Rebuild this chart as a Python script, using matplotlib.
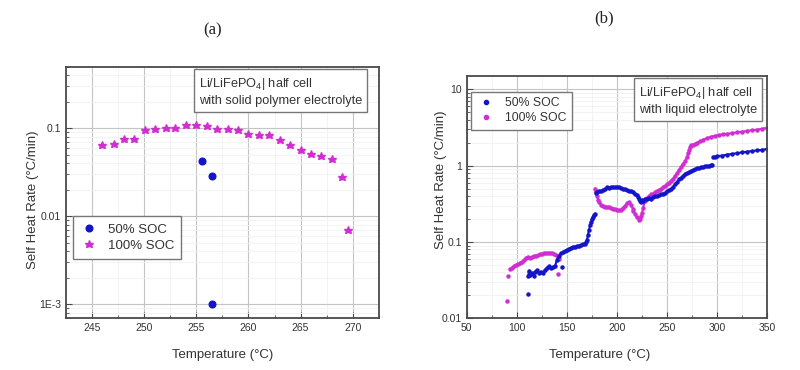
import numpy as np
import matplotlib
matplotlib.use('Agg')
import matplotlib.pyplot as plt
from matplotlib.lines import Line2D
from matplotlib.ticker import FixedLocator, FixedFormatter, MultipleLocator, LogLocator, NullFormatter

plt.rcParams['font.family'] = ['Liberation Sans', 'DejaVu Sans']
plt.rcParams['mathtext.default'] = 'regular'

nan = np.nan

# ---- panel (a): solid polymer electrolyte ----
a_soc50_T = [255.5, 256.5, 256.5]
a_soc50_rate = [0.042, 0.029, 0.001]

a_soc100_T = [246.0, 247.1, 248.1, 249.0, 250.1, 251.0, 252.1, 253.0, 254.0, 255.0,
              256.0, 257.0, 258.0, 259.0, 260.0, 261.0, 262.0, 263.0, 264.0, 265.0,
              266.0, 267.0, 268.0, 269.0, 269.5]
a_soc100_rate = [0.064, 0.066, 0.076, 0.076, 0.095, 0.098, 0.100, 0.102, 0.108, 0.110,
                 0.107, 0.098, 0.097, 0.095, 0.087, 0.083, 0.083, 0.073, 0.064, 0.057,
                 0.051, 0.049, 0.045, 0.028, 0.007]

a_yticks = [1e-3, 0.01, 0.1]
a_yticklabels = ['1E-3', '0.01', '0.1']
a_xticks = [245, 250, 255, 260, 265, 270]

# ---- panel (b): liquid electrolyte (nan = gap in the trace) ----
b_soc50_T = [110.7, nan,
             111.5, 112, 113, 115, 117, 118, 120, 122, 124, 126, 128, 130, 132, 134, 136, 138,
             140, 142, 144, 146, 148, 150, 152, 154, 156, 158, 160, 162, 164, 166, 168, 169,
             170, 171, 172, 173, 174, 175, 176, 177, 178, nan,
             145, nan,
             179, 180, 182, 184, 186, 188, 190, 192, 194, 196, 198, 200, 202, 204, 206, 208,
             210, 212, 214, 216, 218, 220, 221, 222, 223, 224, 225, 226, 228, 230, 232, 234,
             236, 238, 240, 242, 244, 246, 248, 250, 252, 254, 256, 258, 260, 262, 264, 266,
             268, 270, 272, 274, 276, 278, 280, 282, 284, 286, 288, 290, 292, 294, 295, nan,
             296, 298, 300, 305, 310, 315, 320, 325, 330, 335, 340, 345, 350]
b_soc50_rate = [0.021, nan,
                0.036, 0.042, 0.037, 0.039, 0.036, 0.041, 0.043, 0.039, 0.041, 0.039, 0.043, 0.046,
                0.048, 0.045, 0.047, 0.048, 0.058, 0.066, 0.071, 0.073, 0.076, 0.079, 0.082, 0.084,
                0.087, 0.087, 0.088, 0.090, 0.092, 0.093, 0.094, 0.100, 0.106, 0.125, 0.144, 0.165,
                0.185, 0.200, 0.215, 0.225, 0.235, nan,
                0.0465, nan,
                0.44, 0.45, 0.47, 0.46, 0.48, 0.50, 0.52, 0.51, 0.52, 0.53, 0.52, 0.53, 0.52, 0.51,
                0.50, 0.49, 0.48, 0.47, 0.46, 0.45, 0.43, 0.41, 0.39, 0.37, 0.34, 0.33, 0.36, 0.35,
                0.37, 0.37, 0.38, 0.37, 0.39, 0.40, 0.40, 0.41, 0.42, 0.43, 0.44, 0.46, 0.48, 0.50,
                0.53, 0.57, 0.61, 0.66, 0.70, 0.74, 0.77, 0.80, 0.83, 0.86, 0.88, 0.90, 0.92, 0.93,
                0.95, 0.96, 0.98, 0.99, 1.00, 1.02, 1.03, nan,
                1.30, 1.32, 1.33, 1.36, 1.40, 1.43, 1.46, 1.50, 1.53, 1.56, 1.59, 1.62, 1.66]

b_soc100_T = [90, nan, 91, nan, 140.7, nan, 216, nan,
              93, 95, 97, 99, 101, 103, 105, 107, 109, 111, 113, 115, 117, 119, 121, 123, 125,
              127, 129, 131, 133, 135, 137, 139, 141, 142, nan,
              178, 179, 180, 181, 182, 184, 186, 188, 190, 192, 194, 196, 198, 200, 202, 204,
              206, 208, 210, 212, 214, 216, 218, 220, 222, 223, 224, 225, 226, 228, 230, 232,
              234, 236, 238, 240, 242, 244, 246, 248, 250, 252, 254, 256, 258, 260, 262, 264,
              266, 268, 270, 271, 272, 273, nan,
              274, 276, 278, 280, 283, 286, 290, 294, 298, 302, 306, 310, 315, 320, 325, 330,
              335, 340, 345, 350]
b_soc100_rate = [0.017, nan, 0.036, nan, 0.038, nan, 0.255, nan,
                 0.044, 0.046, 0.048, 0.050, 0.051, 0.053, 0.055, 0.058, 0.062, 0.064, 0.062,
                 0.063, 0.065, 0.066, 0.067, 0.069, 0.070, 0.071, 0.071, 0.072, 0.072, 0.071,
                 0.070, 0.068, 0.063, 0.060, nan,
                 0.50, 0.45, 0.40, 0.36, 0.33, 0.31, 0.30, 0.29, 0.29, 0.285, 0.28, 0.275, 0.27,
                 0.265, 0.26, 0.265, 0.28, 0.30, 0.32, 0.33, 0.31, 0.27, 0.23, 0.21, 0.195, 0.20,
                 0.22, 0.24, 0.28, 0.35, 0.38, 0.40, 0.42, 0.43, 0.45, 0.46, 0.48, 0.50, 0.52,
                 0.54, 0.57, 0.60, 0.64, 0.68, 0.74, 0.80, 0.88, 0.97, 1.05, 1.15, 1.30, 1.45,
                 1.60, 1.75, nan,
                 1.85, 1.88, 1.95, 2.00, 2.10, 2.20, 2.30, 2.40, 2.48, 2.52, 2.58, 2.62, 2.68,
                 2.74, 2.80, 2.86, 2.92, 2.98, 3.05, 3.15]

b_yticks = [0.01, 0.1, 1, 10]
b_yticklabels = ['0.01', '0.1', '1', '10']
b_xticks = [50, 100, 150, 200, 250, 300, 350]

BLUE = '#1414c8'
MAGENTA = '#d02ed0'
SPINE = '#4a4a4a'
TXT = '#333333'
BOXTXT = 'Li/LiFePO$_4$| half cell\nwith '


def style_axes(ax):
    ax.set_yscale('log')
    for s in ax.spines.values():
        s.set_color(SPINE)
        s.set_linewidth(1.3)
    ax.tick_params(which='both', direction='in', colors=SPINE, labelcolor=TXT,
                   labelsize=7.5, top=False, right=False)
    ax.tick_params(which='major', length=4)
    ax.tick_params(which='minor', length=2)
    ax.grid(True, which='major', color='#c4c4c4', linewidth=0.8)
    ax.grid(True, which='minor', color='#f1f1f1', linewidth=0.6)
    ax.set_axisbelow(True)


def note(ax, x, y, s):
    ax.text(x, y, s, transform=ax.transAxes, fontsize=9.2, color=TXT, va='top',
            ha='left', linespacing=1.3,
            bbox=dict(boxstyle='square,pad=0.4', fc='white', ec='#777777', lw=1.0))


fig = plt.figure(figsize=(8, 3.7), dpi=100)

# ---------- (a) ----------
ax1 = fig.add_axes([0.0825, 0.1405, 0.391, 0.679])
style_axes(ax1)
ax1.plot(a_soc50_T, a_soc50_rate, 'o', color=BLUE, ms=4.8, label='50% SOC')
ax1.plot(a_soc100_T, a_soc100_rate, '*', color=MAGENTA, ms=6.2, label='100% SOC')
ax1.set_xlim(242.5, 272.5)
ax1.set_ylim(7e-4, 0.5)
ax1.xaxis.set_major_locator(FixedLocator(a_xticks))
ax1.xaxis.set_minor_locator(MultipleLocator(2.5))
ax1.yaxis.set_major_locator(FixedLocator(a_yticks))
ax1.yaxis.set_major_formatter(FixedFormatter(a_yticklabels))
ax1.yaxis.set_minor_locator(LogLocator(base=10, subs=np.arange(2, 10)))
ax1.yaxis.set_minor_formatter(NullFormatter())
ax1.set_xlabel('Temperature (°C)', fontsize=9.5, color=TXT)
ax1.set_ylabel('Self Heat Rate (°C/min)', fontsize=9.5, color=TXT)
ax1.xaxis.set_label_coords(0.5, -0.125)
ax1.yaxis.set_label_coords(-0.085, 0.47)
leg1 = ax1.legend(loc='upper left', bbox_to_anchor=(0.021, 0.406), borderaxespad=0,
                  fontsize=9.5, fancybox=False, edgecolor='#777777', framealpha=1,
                  handlelength=1.4, handletextpad=0.7, borderpad=0.55, labelspacing=0.3)
leg1.get_frame().set_linewidth(1.0)
for t in leg1.get_texts():
    t.set_color(TXT)
note(ax1, 0.425, 0.963, BOXTXT + 'solid polymer electrolyte')
fig.text(213 / 800, 1 - 30 / 370, '(a)', ha='center', va='center', fontsize=12,
         family='Liberation Serif', color='#222222')

# ---------- (b) ----------
ax2 = fig.add_axes([0.5834, 0.1397, 0.3758, 0.6549])
style_axes(ax2)
ax2.plot(b_soc100_T, b_soc100_rate, '-o', color=MAGENTA, ms=2.2, lw=1.5)
ax2.plot(b_soc50_T, b_soc50_rate, '-o', color=BLUE, ms=2.2, lw=1.5)
ax2.set_xlim(50, 350)
ax2.set_ylim(0.01, 15)
ax2.xaxis.set_major_locator(FixedLocator(b_xticks))
ax2.xaxis.set_minor_locator(MultipleLocator(25))
ax2.yaxis.set_major_locator(FixedLocator(b_yticks))
ax2.yaxis.set_major_formatter(FixedFormatter(b_yticklabels))
ax2.yaxis.set_minor_locator(LogLocator(base=10, subs=np.arange(2, 10)))
ax2.yaxis.set_minor_formatter(NullFormatter())
ax2.set_xlabel('Temperature (°C)', fontsize=9.5, color=TXT)
ax2.set_ylabel('Self Heat Rate (°C/min)', fontsize=9.5, color=TXT)
ax2.xaxis.set_label_coords(0.443, -0.128)
ax2.yaxis.set_label_coords(-0.065, 0.57)
handles = [Line2D([], [], marker='o', ls='none', color=BLUE, ms=3),
           Line2D([], [], marker='o', ls='none', color=MAGENTA, ms=3)]
leg2 = ax2.legend(handles, ['50% SOC', '100% SOC'], loc='upper left',
                  bbox_to_anchor=(0.013, 0.935), borderaxespad=0, fontsize=8.8,
                  fancybox=False, edgecolor='#777777', framealpha=1, handlelength=1.6,
                  handletextpad=0.8, borderpad=0.45, labelspacing=0.25)
leg2.get_frame().set_linewidth(1.0)
for t in leg2.get_texts():
    t.set_color(TXT)
note(ax2, 0.573, 0.963, BOXTXT + 'liquid electrolyte')
fig.text(604 / 800, 1 - 18 / 370, '(b)', ha='center', va='center', fontsize=12,
         family='Liberation Serif', color='#222222')

fig.savefig('out.png', dpi=100, facecolor='white')
